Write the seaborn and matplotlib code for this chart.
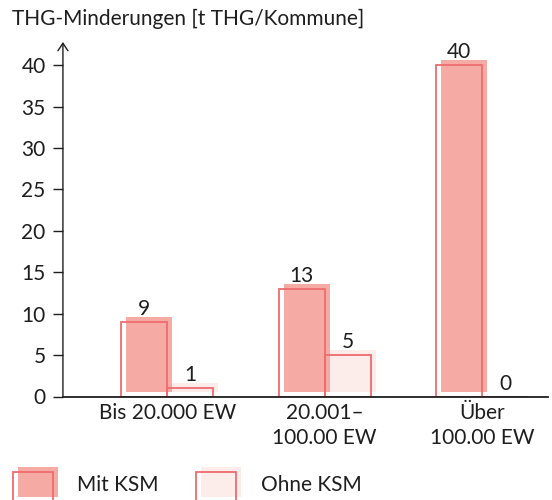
import matplotlib
matplotlib.use('Agg')
import matplotlib.pyplot as plt
from matplotlib.patches import Rectangle
from matplotlib.legend_handler import HandlerBase
from matplotlib.transforms import ScaledTranslation
import seaborn as sns
import pandas as pd

# data
categories = ['Bis 20.000 EW', '20.001–\n100.00 EW', 'Über\n100.00 EW']
mit_ksm = [9, 13, 40]
ohne_ksm = [1, 5, 0]
groups = ['Mit KSM', 'Ohne KSM']

fill_colors = ['#f5aba3', '#fcedeb']
edge_color = '#ee6b70'
text_color = '#1e1e1e'
fs = 15

sns.set_theme(style='white')
plt.rcParams['font.family'] = ['Lato', 'DejaVu Sans']
plt.rcParams['text.color'] = text_color

df = pd.DataFrame({
    'Kategorie': categories * 2,
    'Gruppe': [groups[0]] * 3 + [groups[1]] * 3,
    'Wert': mit_ksm + ohne_ksm,
})

fig = plt.figure(figsize=(5.52, 5.0), dpi=100)
ax = fig.add_axes([0.114, 0.207, 0.879, 0.709])

# filled bars, shifted up/right a bit (sketch look)
sns.barplot(data=df, x='Kategorie', y='Wert', hue='Gruppe', palette=fill_colors, saturation=1,
            width=0.585, gap=0, errorbar=None, linewidth=0, legend=False, ax=ax)
n_fill = len(ax.patches)
shift = ScaledTranslation(5 / 100, 5 / 100, fig.dpi_scale_trans)
for p in ax.patches[:n_fill]:
    p.set_transform(p.get_data_transform() + shift)

# outline bars
sns.barplot(data=df, x='Kategorie', y='Wert', hue='Gruppe', palette=[edge_color, edge_color],
            saturation=1, width=0.585, gap=0, errorbar=None, fill=False, linewidth=1.3,
            legend=False, ax=ax)

for cont in ax.containers[2:]:
    ax.bar_label(cont, fmt='%g', padding=2, fontsize=fs, color=text_color)

ax.set_xlim(-0.663, 2.419)
ax.set_ylim(0, 42.8)
ax.set_yticks(range(0, 41, 5))
ax.set_xlabel('')
ax.set_ylabel('')
ax.tick_params(axis='y', length=7.5, width=1, color=text_color, pad=5, labelsize=fs, labelcolor=text_color, left=True)
ax.tick_params(axis='x', length=0, pad=5, labelsize=fs, labelcolor=text_color)
for lab in ax.get_xticklabels():
    lab.set_linespacing(1.3)

sns.despine(ax=ax, left=True)
ax.spines['bottom'].set_color(text_color)
ax.spines['bottom'].set_linewidth(1.3)
ax.spines['bottom'].set_zorder(5)
ax.annotate('', xy=(0, 1), xytext=(0, 0), xycoords='axes fraction',
            arrowprops=dict(arrowstyle='->,head_length=0.45,head_width=0.3',
                            color=text_color, lw=1, shrinkA=0, shrinkB=0))

fig.text(0.022, 0.95, 'THG-Minderungen [t THG/Kommune]', fontsize=fs, va='baseline', color=text_color)


# legend key: outline box with offset filled box
class SketchKey:
    def __init__(self, face):
        self.face = face


class SketchHandler(HandlerBase):
    def create_artists(self, legend, orig_handle, xdescent, ydescent, width, height, fontsize, trans):
        outline = Rectangle((-xdescent - 2, -8.6), 28.8, 22.3, facecolor='none',
                            edgecolor=edge_color, lw=1.3, transform=trans)
        fill = Rectangle((-xdescent + 1.6, -4.3), 28.8, 21.6, facecolor=orig_handle.face,
                         edgecolor='none', transform=trans)
        return [fill, outline]


keys = [SketchKey(c) for c in fill_colors]
fig.legend(keys, groups, handler_map={SketchKey: SketchHandler()}, loc='lower left',
           bbox_to_anchor=(0.009, -0.015), ncol=2, frameon=False, fontsize=fs,
           borderpad=0, handlelength=2.16, handleheight=1.5, handletextpad=0.82,
           columnspacing=1.93)

fig.savefig('out.png', dpi=100)
